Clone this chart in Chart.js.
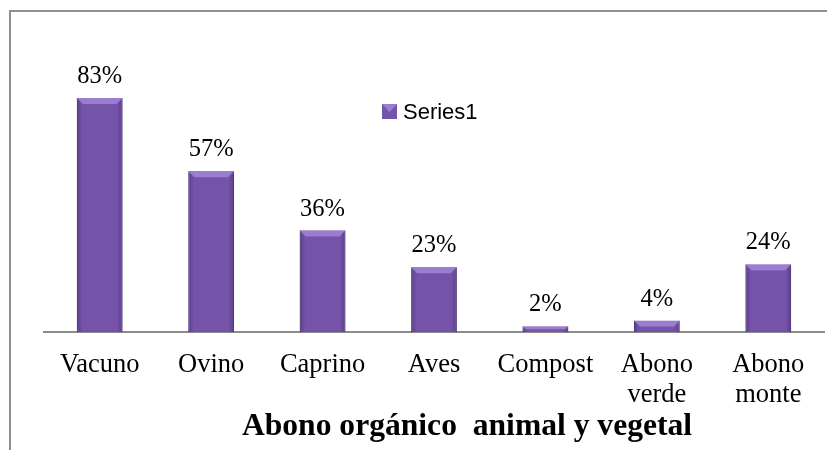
<!DOCTYPE html>
<html>
<head>
<meta charset="utf-8">
<script src="https://cdn.jsdelivr.net/npm/chart.js@4/dist/chart.umd.min.js"></script>
<style>
  html, body { margin: 0; padding: 0; background: #fff; }
  #wrap { position: relative; width: 827px; height: 450px; }
  #frame { position: absolute; left: 9px; top: 10px; right: 0; bottom: 0;
           border-left: 2px solid #8f8f8f; border-top: 2px solid #8f8f8f; }
  canvas { position: absolute; left: 0; top: 0; }
</style>
</head>
<body>
<div id="wrap">
  <div id="frame"></div>
  <canvas id="chart" width="827" height="450"></canvas>
</div>
<script>
const categories = ['Vacuno', 'Ovino', 'Caprino', 'Aves', 'Compost', ['Abono', 'verde'], ['Abono', 'monte']]
const series1 = [83, 57, 36, 23, 2, 4, 24]
const series_name = 'Series1'
const axis_title = 'Abono orgánico  animal y vegetal'

// bevelled look on each bar, taken from the bar elements
const bar_bevel = {
    id: 'bar_bevel',
    afterDatasetsDraw(chart) {
        const ctx = chart.ctx
        const meta = chart.getDatasetMeta(0)
        ctx.save()
        meta.data.forEach(bar => {
            const half = bar.width / 2
            const left = bar.x - half, right = bar.x + half
            const top = bar.y, bottom = bar.base
            const b = Math.min(6, (bottom - top) / 2)
            // side shading
            const g = ctx.createLinearGradient(left, 0, right, 0)
            g.addColorStop(0, 'rgba(60,35,100,0.45)')
            g.addColorStop(0.12, 'rgba(60,35,100,0)')
            g.addColorStop(0.88, 'rgba(60,35,100,0)')
            g.addColorStop(1, 'rgba(60,35,100,0.45)')
            ctx.fillStyle = g
            ctx.fillRect(left, top, bar.width, bottom - top)
            // lighter top bevel
            ctx.fillStyle = '#9a7dd0'
            ctx.beginPath()
            ctx.moveTo(left, top)
            ctx.lineTo(right, top)
            ctx.lineTo(right - b, top + b)
            ctx.lineTo(left + b, top + b)
            ctx.closePath()
            ctx.fill()
        })
        ctx.restore()
    }
}

// value labels above each bar
const value_labels = {
    id: 'value_labels',
    afterDatasetsDraw(chart) {
        const ctx = chart.ctx
        const meta = chart.getDatasetMeta(0)
        ctx.save()
        ctx.font = '24.5px "Liberation Serif"'
        ctx.fillStyle = '#000'
        ctx.textAlign = 'center'
        ctx.textBaseline = 'alphabetic'
        meta.data.forEach((bar, i) => {
            ctx.fillText(series1[i] + '%', bar.x, bar.y - 15)
        })
        ctx.restore()
    }
}

// legend and axis title drawn where the original has them
const extras = {
    id: 'extras',
    afterDraw(chart) {
        const ctx = chart.ctx
        ctx.save()
        const x = 382, y = 104
        ctx.fillStyle = '#7453a9'
        ctx.fillRect(x, y, 15, 15)
        ctx.fillStyle = '#9a7dd0'
        ctx.beginPath()
        ctx.moveTo(x, y)
        ctx.lineTo(x + 15, y)
        ctx.lineTo(x + 7.5, y + 8)
        ctx.closePath()
        ctx.fill()
        ctx.font = '22px "Liberation Sans"'
        ctx.fillStyle = '#000'
        ctx.textBaseline = 'alphabetic'
        ctx.fillText(chart.data.datasets[0].label, 403, 119)

        ctx.font = 'bold 31.6px "Liberation Serif"'
        ctx.textAlign = 'center'
        ctx.fillText(axis_title, 467, 435)
        ctx.restore()
    }
}

new Chart(document.getElementById('chart'), {
    type: 'bar',
    data: {
        labels: categories,
        datasets: [{
            label: series_name,
            data: series1,
            backgroundColor: '#7453a9',
            borderColor: '#5b3f86',
            borderWidth: 1,
            barPercentage: 1,
            categoryPercentage: 0.41
        }]
    },
    options: {
        responsive: false,
        animation: false,
        layout: { padding: { left: 44, right: 3, top: 50, bottom: 30 } },
        plugins: {
            legend: { display: false },
            tooltip: { enabled: false }
        },
        scales: {
            y: { display: false, min: 0, max: 100 },
            x: {
                grid: { display: false },
                border: { display: true, color: '#8c8c8c', width: 2 },
                ticks: {
                    color: '#000',
                    font: { family: '"Liberation Serif"', size: 26.5, lineHeight: 1.13 },
                    padding: 10,
                    maxRotation: 0,
                    autoSkip: false
                }
            }
        }
    },
    plugins: [bar_bevel, value_labels, extras]
})
</script>
</body>
</html>
